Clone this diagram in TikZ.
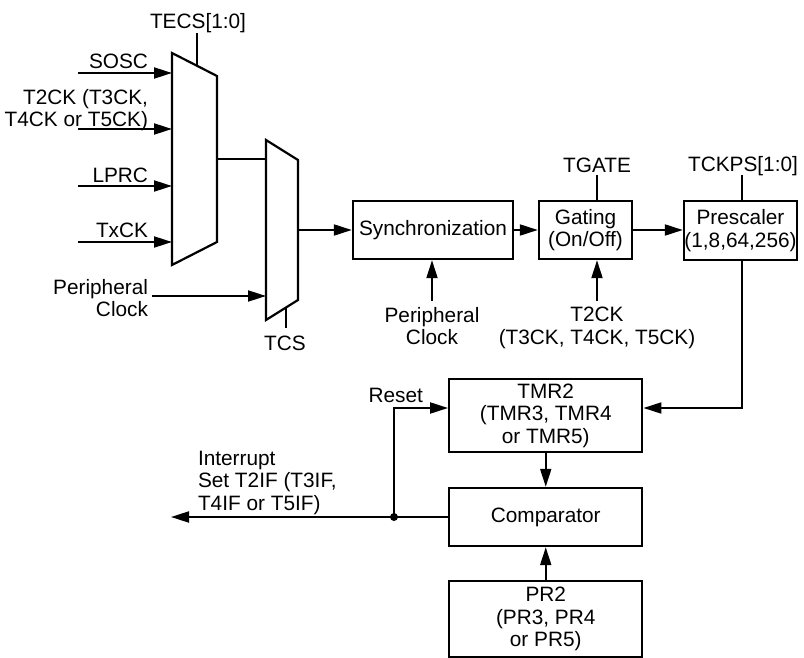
\documentclass[tikz,border=0pt]{standalone}
\usepackage{fontspec}
\setmainfont{Liberation Sans}
\usetikzlibrary{arrows.meta}
\begin{document}
\begin{tikzpicture}[x=0.5pt,y=-0.5pt,line width=1pt,
  txt/.style={inner sep=0pt,font=\fontsize{10.4}{11.25}\selectfont},
  box/.style={draw,line width=1.2pt,inner sep=0pt,align=center,font=\fontsize{10.4}{11.25}\selectfont},
  mux/.style={draw,line width=1.1pt,line join=miter},
  arr/.style={-{Triangle[length=9pt,width=5.5pt]}}]
\useasboundingbox (0,0) rectangle (804,658);

% multiplexers
\draw[mux] (172,53) coordinate (m1tl) -- (217,76) coordinate (m1tr) -- (217,242) coordinate (m1br) -- (172,265) coordinate (m1bl) -- cycle;
\draw[mux] (266,140) coordinate (m2tl) -- (298,160) coordinate (m2tr) -- (298,300) coordinate (m2br) -- (266,320) coordinate (m2bl) -- cycle;

% mux 1 ports
\coordinate (m1a) at (172,73);
\coordinate (m1b) at (172,129);
\coordinate (m1c) at (172,186);
\coordinate (m1d) at (172,242);
\coordinate (m1o) at (217,159);
\coordinate (m1s) at (197,65.8);
\coordinate (m2i) at (266,159);
\coordinate (m2p) at (266,296);
\coordinate (m2o) at (298,230);
\coordinate (m2s) at (286,307.5);

% free ends
\coordinate (sa) at (78,73);
\coordinate (sb) at (78,129);
\coordinate (sc) at (78,186);
\coordinate (sd) at (78,242);
\coordinate (sp) at (152,296);
\coordinate (tecsEnd) at (197,33);
\coordinate (tcsEnd) at (286,328);

% labels left
\node[txt,anchor=north] (tecs) at (198,12) {TECS[1:0]};
\node[txt,anchor=north east] (sosc) at (149,53) {SOSC};
\node[txt,anchor=north east,align=right] (t2ck) at (149,88) {T2CK (T3CK,\\T4CK or T5CK)};
\node[txt,anchor=north east] (lprc) at (149,167) {LPRC};
\node[txt,anchor=north east] (txck) at (149,222) {TxCK};
\node[txt,anchor=north east,align=right] (pclk1) at (149,278) {Peripheral\\Clock};
\node[txt,anchor=north] (tcs) at (285,335) {TCS};

% boxes
\node[box,minimum width=80pt,minimum height=29pt] (sync) at (433,230) {Synchronization};
\node[box,minimum width=46.5pt,minimum height=29pt] (gate) at (585.5,230) {Gating\\(On/Off)};
\node[box,minimum width=56.5pt,minimum height=29.5pt] (pre) at (740.5,230.5) {Prescaler\\(1,8,64,256)};
\node[box,minimum width=96.5pt,minimum height=36.5pt] (tmr) at (545.75,415.5) {TMR2\\(TMR3, TMR4\\or TMR5)};
\node[box,minimum width=96.5pt,minimum height=29pt] (cmp) at (545.75,517) {Comparator};
\node[box,minimum width=96.5pt,minimum height=38pt] (pr) at (545.75,619) {PR2\\(PR3, PR4\\or PR5)};

% labels around boxes
\node[txt,anchor=north] (tgate) at (597,157) {TGATE};
\node[txt,anchor=north] (tckps) at (743,155) {TCKPS[1:0]};
\node[txt,anchor=north,align=center] (pclk2) at (432,306) {Peripheral\\Clock};
\node[txt,anchor=north,align=center] (t2ck2) at (597,306) {T2CK\\(T3CK, T4CK, T5CK)};
\node[txt,anchor=north east] (reset) at (424,387) {Reset};
\node[txt,anchor=north west,align=left] (intr) at (197,450) {Interrupt\\Set T2IF (T3IF,\\T4IF or T5IF)};

\coordinate (tgEnd) at (597,175);
\coordinate (tkEnd) at (742,175);
\coordinate (pc2End) at (432,301);
\coordinate (t2End) at (597,301);
\coordinate (preDown) at (742,408);
\coordinate (dot) at (394,517);
\coordinate (dotUp) at (394,408);
\coordinate (intEnd) at (171,517);

% connectors
\draw[arr] (sa) -- (m1a);
\draw[arr] (sb) -- (m1b);
\draw[arr] (sc) -- (m1c);
\draw[arr] (sd) -- (m1d);
\draw (tecsEnd) -- (m1s);
\draw (m1o) -- (m2i);
\draw[arr] (sp) -- (m2p);
\draw (m2s) -- (tcsEnd);
\draw[arr] (m2o) -- (sync.west |- m2o);
\draw[arr] (sync.east) -- (gate.west);
\draw[arr] (gate.east) -- (pre.west |- gate.east);
\draw (tgEnd) -- (tgEnd |- gate.north);
\draw (tkEnd) -- (tkEnd |- pre.north);
\draw[arr] (pc2End) -- (pc2End |- sync.south);
\draw[arr] (t2End) -- (t2End |- gate.south);
\draw[arr] (tkEnd |- pre.south) -- (preDown) -- (tmr.east |- preDown);
\draw[arr] (tmr.south) -- (cmp.north);
\draw[arr] (pr.north) -- (cmp.south);
\draw[arr] (cmp.west) -- (intEnd);
\draw[arr] (dot) -- (dotUp) -- (tmr.west |- dotUp);
\fill (dot) circle (2pt);
\end{tikzpicture}
\end{document}
